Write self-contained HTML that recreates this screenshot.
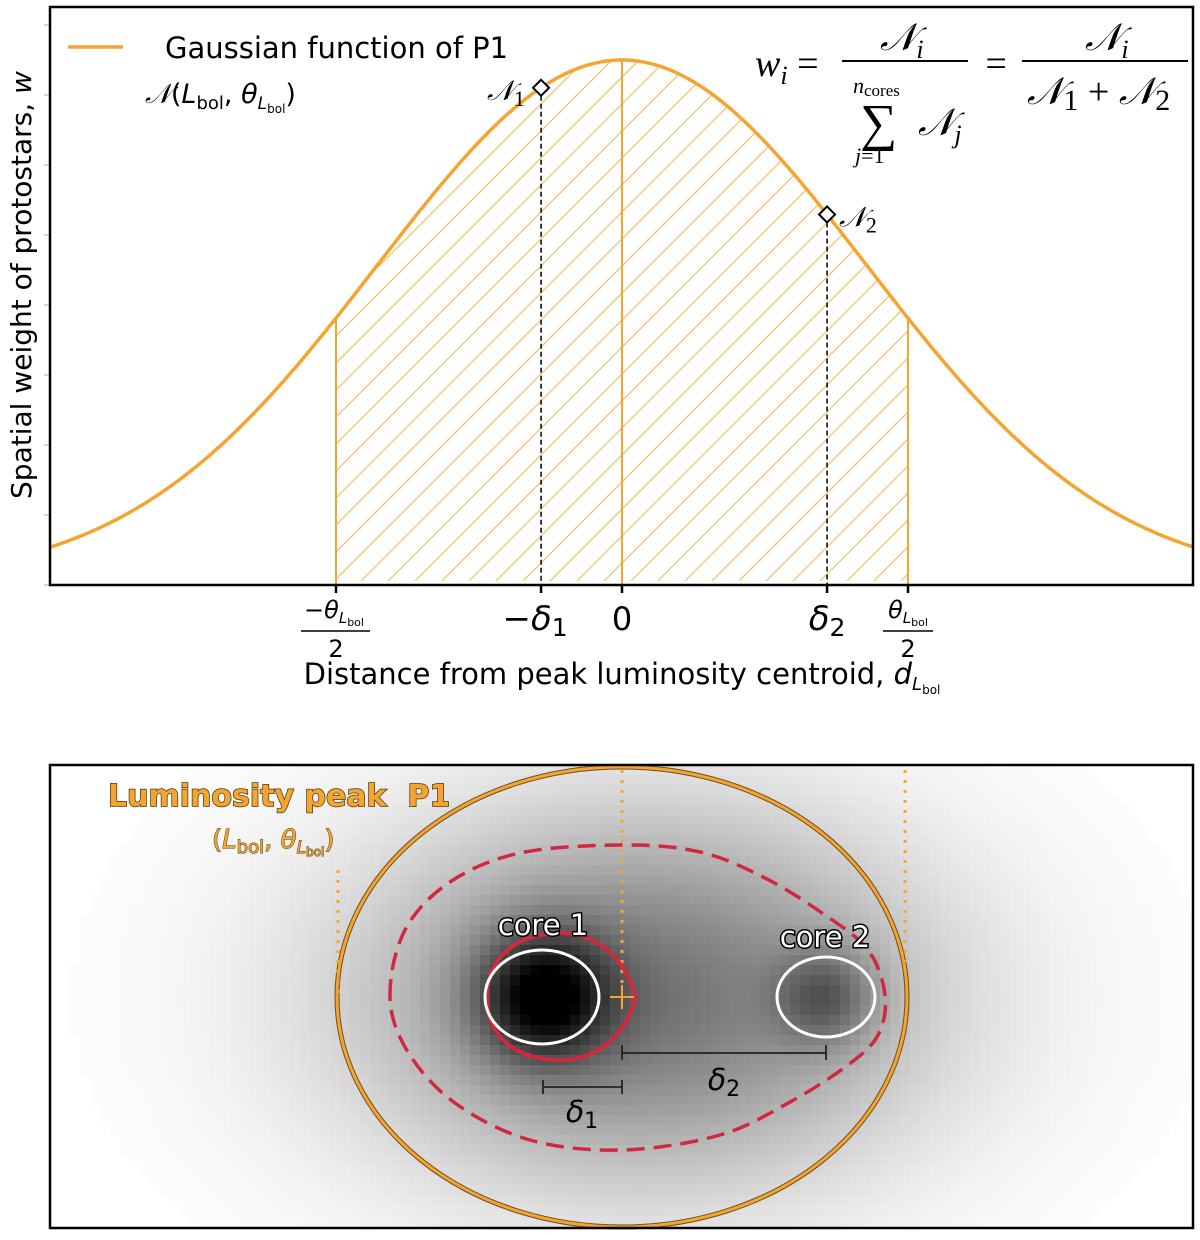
<!DOCTYPE html>
<html><head><meta charset="utf-8"><style>
html,body{margin:0;padding:0;background:#fff;width:1200px;height:1240px;overflow:hidden}
svg{display:block}
text{font-family:"DejaVu Sans","Liberation Sans",sans-serif}
text.serif{font-family:"Liberation Serif","DejaVu Serif",serif;font-style:italic}
</style></head><body>
<svg id="fig" width="1200" height="1240" viewBox="0 0 1200 1240" xmlns="http://www.w3.org/2000/svg">
<defs>
<clipPath id="topclip"><rect x="50" y="7" width="1143" height="578"/></clipPath>
<clipPath id="botclip"><rect x="50" y="765" width="1143" height="463"/></clipPath>
<clipPath id="hatchclip"><path id="hatchclippath" d=""/></clipPath>
</defs>
<g id="top">
<rect x="50" y="7" width="1143" height="578" fill="#fff"/>
<g id="hatch" clip-path="url(#hatchclip)"></g>
<g id="curves" clip-path="url(#topclip)"></g>
<g id="yticks"></g>
<rect x="50" y="7" width="1143" height="578" fill="none" stroke="#000" stroke-width="2.5"/>
<g id="xticks"></g>
<line x1="68" y1="47" x2="123" y2="47" stroke="#f5a431" stroke-width="3.5"/>
<text x="165" y="58" font-size="29">Gaussian function of P1</text>
<text x="145" y="103" font-size="27"><tspan font-family="Liberation Serif, serif" font-style="italic">𝒩</tspan>(<tspan font-style="italic">L</tspan><tspan font-size="18" dy="6">bol</tspan><tspan dy="-6">, </tspan><tspan font-style="italic">θ</tspan><tspan font-style="italic" font-size="17" dy="6">L</tspan><tspan font-size="12" dy="4">bol</tspan><tspan dy="-10">)</tspan></text>
<g font-size="38">
<text class="serif" x="755" y="76">w<tspan font-size="26" dy="8">i</tspan><tspan font-style="normal" dy="-8"> =</tspan></text>
<text class="serif" x="880" y="50">𝒩<tspan font-size="26" dy="8">i</tspan></text>
<line x1="842" y1="61" x2="968" y2="61" stroke="#000" stroke-width="2"/>
<text class="serif" x="853" y="93" font-size="22">n<tspan font-style="normal" font-size="17" dy="3">cores</tspan></text>
<text class="serif" x="860" y="140" font-style="normal" font-size="52">∑</text>
<text class="serif" x="918" y="135">𝒩<tspan font-size="26" dy="8">j</tspan></text>
<text class="serif" x="855" y="163" font-size="22">j<tspan font-style="normal">=1</tspan></text>
<text class="serif" x="983" y="76" font-style="normal">=</text>
<text class="serif" x="1085" y="50">𝒩<tspan font-size="26" dy="8">i</tspan></text>
<line x1="1022" y1="61" x2="1188" y2="61" stroke="#000" stroke-width="2"/>
<text class="serif" x="1027" y="104">𝒩<tspan font-style="normal" font-size="30" dy="6">1</tspan><tspan font-style="normal" dy="-6"> + </tspan>𝒩<tspan font-style="normal" font-size="30" dy="6">2</tspan></text>
</g>
<text transform="translate(31,285) rotate(-90)" text-anchor="middle" font-size="28">Spatial weight of protostars, <tspan font-style="italic">w</tspan></text>
<text x="622" y="684" text-anchor="middle" font-size="29">Distance from peak luminosity centroid, <tspan font-style="italic">d</tspan><tspan font-style="italic" font-size="18" dy="6">L</tspan><tspan font-size="12" dy="4">bol</tspan></text>
</g>
<g id="bottom">
<rect x="50" y="765" width="1143" height="463" fill="#fff"/>
<g id="heat" clip-path="url(#botclip)"></g>
<g id="overlay"></g>
<rect x="50" y="765" width="1143" height="463" fill="none" stroke="#000" stroke-width="2.5"/>
<text x="108" y="806" font-size="30" font-weight="bold" fill="#f5a431" stroke="#4a3a10" stroke-width="1.5" paint-order="stroke">Luminosity peak&#160; P1</text>
<text x="212" y="848" font-size="26" fill="#f5a431" stroke="#4a3a10" stroke-width="1" paint-order="stroke">(<tspan font-style="italic">L</tspan><tspan font-size="18" dy="5">bol</tspan><tspan dy="-5">, </tspan><tspan font-style="italic">θ</tspan><tspan font-style="italic" font-size="17" dy="5">L</tspan><tspan font-size="12" dy="3">bol</tspan><tspan dy="-8">)</tspan></text>
</g>
</svg>
<script>
// ---- data (top chart) ----
const tickValues = [-1, -0.283, 0, 0.717, 1];
const tickNames = ["-theta/2", "-delta1", "0", "delta2", "theta/2"];
const markerX = [-0.283, 0.717];
const markerNames = ["1", "2"];
const gaussSigma = [0.855];
const gaussAmp = [1.0];
const xDomain = [-2, 2];
// ---- data (bottom map) ----
const coreCenters = [542, 826];
const coreWeights = [0.62, 0.33];
const coreSigma = [46, 35];

const NS = "http://www.w3.org/2000/svg";
function el(tag, attrs, parent){const e=document.createElementNS(NS,tag);for(const k in attrs)e.setAttribute(k,attrs[k]);parent.appendChild(e);return e;}
const X = v => 622 + v*286;
const Y = v => 581 - v*521;
const gauss = v => gaussAmp[0]*Math.exp(-v*v/(2*gaussSigma[0]*gaussSigma[0]));
const orange = "#f5a431";

const curves = document.getElementById('curves');
let d="";
for(let i=0;i<=400;i++){const v=xDomain[0]+(xDomain[1]-xDomain[0])*i/400;d+=(i?"L":"M")+X(v).toFixed(1)+","+Y(gauss(v)).toFixed(1);}
let hc="M"+X(-1)+","+Y(0);
for(let i=0;i<=200;i++){const v=-1+2*i/200;hc+="L"+X(v).toFixed(1)+","+Y(gauss(v)).toFixed(1);}
hc+="L"+X(1)+","+Y(0)+"Z";
document.getElementById('hatchclippath').setAttribute('d',hc);
const hatch=document.getElementById('hatch');
for(let x0=X(-1)-600;x0<X(1)+40;x0+=27){
  const ln=el('line',{x1:x0,y1:585,x2:x0+560,y2:25,stroke:orange,'stroke-width':1,'stroke-opacity':0.85},hatch);
  
  
}
[-1,0,1].forEach(v=>{
  const ln=el('line',{x1:X(v),y1:Y(0)+4,x2:X(v),y2:Y(gauss(v)),stroke:orange,'stroke-width':2},curves);
  
  
});
const path=el('path',{d:d,fill:'none',stroke:orange,'stroke-width':3.5},curves);


markerX.forEach((v,i)=>{
  const px=X(v),py=Y(gauss(v));
  const dl=el('line',{x1:px,y1:py,x2:px,y2:585,stroke:'#000','stroke-width':1.5,'stroke-dasharray':'5,3'},curves);
  
  
  const dm=el('path',{d:`M${px},${py-8}L${px+8},${py}L${px},${py+8}L${px-8},${py}Z`,fill:'#fff',stroke:'#000','stroke-width':2},curves);
  
  
  const t=el('text',{x:i===0?px-54:px+12,y:py+12,'font-size':28,'class':'serif'},document.getElementById('top'));
  t.innerHTML='𝒩<tspan font-style="normal" font-size="22" dy="6">'+markerNames[i]+'</tspan>';
  
  
});
const yt=document.getElementById('yticks');
for(let k=0;k<9;k++){
  const ln=el('line',{x1:44,x2:50,y1:25+k*70,y2:25+k*70,stroke:'#aaa','stroke-width':1},yt);
  
  
}
const xt=document.getElementById('xticks');
tickValues.forEach((v,i)=>{
  const ln=el('line',{x1:X(v),x2:X(v),y1:585,y2:593,stroke:'#000','stroke-width':2.5},xt);
  
  
  const g=el('g',{},xt);
  
  
  const x=X(v);
  if(tickNames[i]==="-theta/2"||tickNames[i]==="theta/2"){
    const neg=tickNames[i][0]==="-";
    const t=el('text',{x:x+(neg?-2:0),y:618,'text-anchor':'middle','font-size':24},g);
    t.innerHTML=(neg?'−':'')+'<tspan font-style="italic">θ</tspan><tspan font-style="italic" font-size="15" dy="5">L</tspan><tspan font-size="11" dy="3">bol</tspan>';
    el('line',{x1:x-(neg?35:25),x2:x+(neg?34:25),y1:631,y2:631,stroke:'#000','stroke-width':1.5},g);
    const t2=el('text',{x:x,y:657,'text-anchor':'middle','font-size':24},g);t2.textContent='2';
  } else if(tickNames[i]==="0"){
    const t=el('text',{x:x,y:630,'text-anchor':'middle','font-size':32},g);t.textContent='0';
  } else {
    const neg=tickNames[i][0]==="-";
    const t=el('text',{x:x+(neg?-6:0),y:630,'text-anchor':'middle','font-size':34},g);
    t.innerHTML=(neg?'−':'')+'<tspan font-style="italic">δ</tspan><tspan font-size="25" dy="6">'+tickNames[i].slice(-1)+'</tspan>';
  }
});

// ---- heatmap ----
const heat=document.getElementById('heat');
const cy=997;
for(let y=765;y<1230;y+=10){
  for(let x=50;x<1195;x+=10){
    const px=x+5,py=y+5;
    let v=0.55*Math.exp(-((px-640)**2)/(2*200*200)-((py-cy)**2)/(2*130*130));
    coreCenters.forEach((c,i)=>{v+=coreWeights[i]*Math.exp(-(((px-c)**2)+((py-cy)**2))/(2*coreSigma[i]*coreSigma[i]));});
    v=Math.min(1,v);
    const g=Math.round(255*(1-v));
    if(g>=253) continue;
    const r=el('rect',{x:x,y:y,width:10,height:10,fill:`rgb(${g},${g},${g})`},heat);
    
    
  }
}
const ov=document.getElementById('overlay');
function add(tag,attrs,name){const e=el(tag,attrs,ov);return e;}
add('ellipse',{cx:622,cy:997,rx:285,ry:230,fill:'none',stroke:'#6b5020','stroke-width':5},'peak-ellipse-outline');
add('ellipse',{cx:622,cy:997,rx:285,ry:230,fill:'none',stroke:orange,'stroke-width':3},'peak-ellipse');
add('line',{x1:622,y1:770,x2:622,y2:990,stroke:orange,'stroke-width':3,'stroke-dasharray':'3,7'},'center-dotted-line');
add('line',{x1:338,y1:870,x2:338,y2:1000,stroke:orange,'stroke-width':3,'stroke-dasharray':'3,7'},'left-dotted-line');
add('line',{x1:905,y1:770,x2:905,y2:962,stroke:orange,'stroke-width':3,'stroke-dasharray':'3,7'},'right-dotted-line');
const pts=[[390,997],[405,930],[450,882],[520,853],[622,845],[700,852],[765,878],[825,915],[868,950],[885,995],[878,1035],[848,1065],[790,1102],[720,1135],[622,1150],[530,1140],[455,1103],[408,1052]];
let cd="";const n=pts.length;
for(let i=0;i<n;i++){const p0=pts[(i-1+n)%n],p1=pts[i],p2=pts[(i+1)%n],p3=pts[(i+2)%n];
 if(i===0)cd+=`M${p1[0]},${p1[1]}`;
 cd+=`C${p1[0]+(p2[0]-p0[0])/6},${p1[1]+(p2[1]-p0[1])/6} ${p2[0]-(p3[0]-p1[0])/6},${p2[1]-(p3[1]-p1[1])/6} ${p2[0]},${p2[1]}`;}
add('path',{d:cd+'Z',fill:'none',stroke:'#d1283f','stroke-width':3.5,'stroke-dasharray':'18,9'},'dashed-contour');
add('path',{d:'M487,997 C487,955 520,933 560,933 C605,933 630,970 635,997 C630,1025 605,1060 560,1060 C520,1060 487,1040 487,997Z',fill:'none',stroke:'#d1283f','stroke-width':4},'core1-red-contour');
add('ellipse',{cx:542,cy:997,rx:57,ry:47,fill:'none',stroke:'#fff','stroke-width':3},'core1-ellipse');
add('ellipse',{cx:826,cy:997,rx:49,ry:40,fill:'none',stroke:'#fff','stroke-width':3},'core2-ellipse');
add('path',{d:'M610,997H634M622,985V1009',stroke:orange,'stroke-width':2},'centroid-cross');
add('path',{d:'M622,1045V1060M622,1053H826M826,1045V1060',stroke:'#222','stroke-width':1.8,fill:'none'},'delta2-bar');
add('path',{d:'M543,1080V1094M543,1087H622M622,1080V1094',stroke:'#222','stroke-width':1.8,fill:'none'},'delta1-bar');
let t=add('text',{x:582,y:1122,'text-anchor':'middle','font-size':30},'delta1-label');t.innerHTML='<tspan font-style="italic">δ</tspan><tspan font-size="22" dy="6">1</tspan>';
t=add('text',{x:724,y:1090,'text-anchor':'middle','font-size':30},'delta2-label');t.innerHTML='<tspan font-style="italic">δ</tspan><tspan font-size="22" dy="6">2</tspan>';
t=add('text',{x:543,y:935,'text-anchor':'middle','font-size':29,fill:'#fff',stroke:'#000','stroke-width':3,'paint-order':'stroke'},'core1-label');t.textContent='core 1';
t=add('text',{x:825,y:947,'text-anchor':'middle','font-size':29,fill:'#fff',stroke:'#000','stroke-width':3,'paint-order':'stroke'},'core2-label');t.textContent='core 2';
</script>
</body></html>
